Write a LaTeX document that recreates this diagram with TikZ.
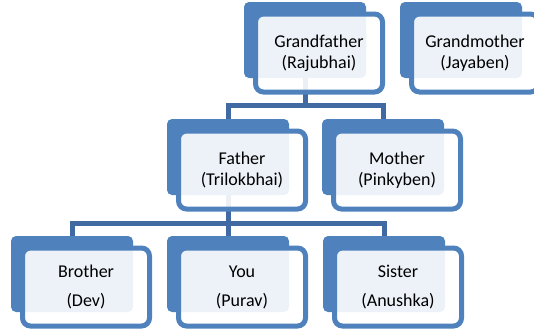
\documentclass[tikz,border=0pt]{standalone}
\usepackage{fontspec}
\setmainfont{Carlito}
\definecolor{boxblue}{RGB}{79,129,189}
\definecolor{connblue}{RGB}{66,106,162}
\pgfdeclarelayer{bg}
\pgfsetlayers{bg,main}
\tikzset{
  backbox/.style={fill=boxblue, draw=none, rounded corners=5pt, minimum width=122pt, minimum height=76pt, inner sep=0pt, outer sep=0pt},
  frontbox/.style={draw=boxblue, line width=5pt, fill=white, fill opacity=0.9, text opacity=1, rounded corners=8pt, minimum width=127pt, minimum height=78pt, inner sep=0pt, outer sep=0pt, align=center, font=\fontsize{18}{21}\selectfont},
  lowbox/.style={frontbox, font=\fontsize{18}{29}\selectfont},
  conn/.style={draw=connblue, line width=5pt}
}
\begin{document}
\begin{tikzpicture}[x=1pt,y=-1pt]
\useasboundingbox (0,0) rectangle (534,335);
\clip (0,0) rectangle (534,335);
% back rectangles
\node[backbox] (gfb) at (305,40) {};
\node[backbox] (gmb) at (461,40) {};
\node[backbox] (fb) at (228,157) {};
\node[backbox] (mb) at (383,157) {};
\node[backbox] (bb) at (72,274) {};
\node[backbox] (yb) at (228,274) {};
\node[backbox] (sb) at (384,274) {};
% front boxes
\node[frontbox] (gf) at (319,53) {Grandfather\\(Rajubhai)};
\node[frontbox] (gm) at (475,53) {Grandmother\\(Jayaben)};
\node[frontbox] (fa) at (242,170) {Father\\(Trilokbhai)};
\node[frontbox] (mo) at (397,170) {Mother\\(Pinkyben)};
\node[lowbox] (br) at (86,287) {Brother\\(Dev)};
\node[lowbox] (yo) at (242,287) {You\\(Purav)};
\node[lowbox] (si) at (398,287) {Sister\\(Anushka)};
% connectors
\coordinate (j1) at (305,105);
\coordinate (j2) at (228,223);
\begin{pgfonlayer}{bg}
\draw[conn] (gfb.center) -- (j1);
\draw[conn] (fb.north) |- (j1) -| (mb.north);
\draw[conn] (fb.center) -- (j2);
\draw[conn] (bb.north) |- (j2) -| (sb.north);
\draw[conn] (j2) -- (yb.north);
\end{pgfonlayer}
\end{tikzpicture}
\end{document}
